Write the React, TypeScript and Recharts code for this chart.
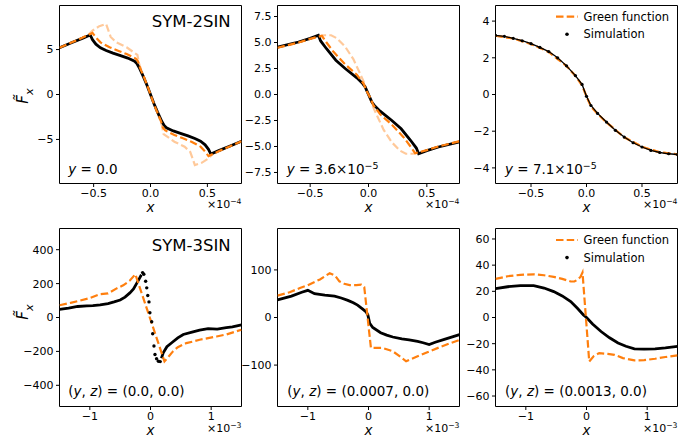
import { ComposedChart, Line, XAxis, YAxis, ReferenceArea } from 'recharts'

type Pt = [number, number]

// SYM-2SIN, x in units of 1e-4
const sym2Y0Sim: Pt[] = [
  [-0.8, 5.2], [-0.7, 5.72], [-0.6, 6.24], [-0.53, 6.62], [-0.51, 6.1], [-0.48, 5.6],
  [-0.44, 5.2], [-0.39, 4.9], [-0.33, 4.6], [-0.27, 4.35], [-0.2, 4.05], [-0.14, 3.7],
  [-0.12, 3.45], [-0.1, 3.0], [-0.06, 1.9], [-0.03, 1.0], [0, 0], [0.03, -1.0], [0.06, -1.9],
  [0.1, -3.0], [0.12, -3.45], [0.14, -3.7], [0.2, -4.05], [0.27, -4.35], [0.33, -4.6],
  [0.39, -4.9], [0.44, -5.2], [0.48, -5.6], [0.51, -6.1], [0.53, -6.62], [0.6, -6.24],
  [0.7, -5.72], [0.8, -5.2],
]
const sym2Y0Green: Pt[] = [
  [-0.8, 5.2], [-0.7, 5.75], [-0.6, 6.3], [-0.51, 6.85], [-0.48, 6.35], [-0.44, 5.8],
  [-0.36, 5.25], [-0.28, 4.85], [-0.21, 4.5], [-0.13, 4.0], [-0.11, 3.7], [-0.09, 2.9],
  [-0.05, 1.7], [-0.02, 0.7], [0, 0], [0.02, -0.7], [0.05, -1.7], [0.09, -2.9], [0.11, -3.7],
  [0.13, -4.0], [0.21, -4.5], [0.28, -4.85], [0.36, -5.25], [0.44, -5.8], [0.48, -6.35],
  [0.51, -6.85], [0.6, -6.3], [0.7, -5.75], [0.8, -5.2],
]
const sym2Y0Light: Pt[] = [
  [-0.8, 5.2], [-0.6, 6.3], [-0.55, 6.6], [-0.51, 7.1], [-0.45, 7.6], [-0.39, 7.85],
  [-0.375, 7.3], [-0.35, 6.4], [-0.3, 5.8], [-0.21, 5.25], [-0.115, 4.4], [-0.1, 3.4],
  [-0.06, 2.0], [-0.03, 1.0], [0, 0], [0.03, -1.0], [0.06, -2.0], [0.1, -3.4], [0.115, -4.4],
  [0.21, -5.25], [0.3, -5.8], [0.35, -6.4], [0.375, -7.3], [0.39, -7.85], [0.45, -7.6],
  [0.51, -7.1], [0.55, -6.6], [0.6, -6.3], [0.8, -5.2],
]

const sym2Y36Sim: Pt[] = [
  [-0.78, 4.55], [-0.6, 5.05], [-0.5, 5.4], [-0.43, 5.7], [-0.41, 5.15], [-0.36, 4.4],
  [-0.28, 3.3], [-0.2, 2.5], [-0.1, 1.6], [-0.05, 1.05], [-0.03, 0.75], [0.03, -0.75],
  [0.05, -1.05], [0.1, -1.6], [0.2, -2.5], [0.28, -3.3], [0.36, -4.4], [0.41, -5.15],
  [0.43, -5.7], [0.5, -5.4], [0.6, -5.05], [0.78, -4.55],
]
const sym2Y36Green: Pt[] = [
  [-0.78, 4.5], [-0.6, 5.0], [-0.5, 5.35], [-0.4, 5.65], [-0.36, 5.0], [-0.3, 4.1],
  [-0.2, 2.9], [-0.1, 1.9], [-0.04, 1.0], [-0.02, 0.4], [0.02, -0.4], [0.04, -1.0],
  [0.1, -1.9], [0.2, -2.9], [0.3, -4.1], [0.36, -5.0], [0.4, -5.65], [0.5, -5.35],
  [0.6, -5.0], [0.78, -4.5],
]
const sym2Y36Light: Pt[] = [
  [-0.78, 4.5], [-0.6, 5.0], [-0.45, 5.55], [-0.38, 5.7], [-0.32, 5.7], [-0.27, 5.4],
  [-0.2, 4.6], [-0.13, 3.4], [-0.08, 2.2], [-0.04, 1.2], [0, 0], [0.04, -1.2], [0.08, -2.2],
  [0.13, -3.4], [0.2, -4.6], [0.27, -5.4], [0.32, -5.7], [0.38, -5.7], [0.45, -5.55],
  [0.6, -5.0], [0.78, -4.5],
]

const sym2Y71Sim: Pt[] = [
  [-0.82, 3.22], [-0.74, 3.17], [-0.66, 3.06], [-0.58, 2.93], [-0.5, 2.77], [-0.42, 2.57],
  [-0.34, 2.34], [-0.26, 2.0], [-0.18, 1.56], [-0.1, 1.03], [-0.04, 0.55], [0, -0.1],
  [0.04, -0.6], [0.1, -1.03], [0.18, -1.5], [0.26, -1.95], [0.34, -2.32], [0.42, -2.63],
  [0.5, -2.86], [0.58, -3.05], [0.66, -3.16], [0.74, -3.23], [0.82, -3.27],
]
const sym2Y71Green: Pt[] = [
  [-0.82, 3.2], [-0.66, 3.05], [-0.5, 2.75], [-0.34, 2.32], [-0.18, 1.55], [-0.1, 1.02],
  [-0.04, 0.5], [0, -0.1], [0.04, -0.65], [0.1, -1.05], [0.18, -1.52], [0.34, -2.33],
  [0.5, -2.85], [0.66, -3.15], [0.82, -3.26],
]

// SYM-3SIN, x in units of 1e-3
const sym3Z0Sim: Pt[] = [
  [-1.5, 48], [-1.35, 55], [-1.2, 65], [-1.05, 68], [-0.95, 70], [-0.83, 75], [-0.7, 82],
  [-0.6, 92], [-0.5, 103], [-0.42, 120], [-0.34, 145], [-0.28, 168], [-0.23, 200],
  [-0.18, 232], [-0.15, 252],
]
const sym3Z0SimJump: Pt[] = [
  [-0.13, 265], [-0.11, 255], [-0.08, 214], [-0.062, 175], [-0.045, 130], [-0.025, 92],
  [-0.01, 28], [0.02, -25], [0.036, -96], [0.057, -168], [0.074, -218], [0.1, -243],
  [0.13, -258], [0.16, -260],
]
const sym3Z0SimRight: Pt[] = [
  [0.18, -240], [0.21, -208], [0.27, -172], [0.35, -149], [0.45, -120], [0.54, -100],
  [0.7, -85], [0.81, -75], [0.95, -66], [1.1, -68], [1.25, -60], [1.35, -55], [1.5, -43],
]
const sym3Z0Green: Pt[] = [
  [-1.5, 72], [-1.3, 88], [-1.16, 100], [-1.0, 115], [-0.83, 138], [-0.7, 142], [-0.55, 173],
  [-0.45, 190], [-0.34, 218], [-0.25, 255], [0.23, -259], [0.3, -230], [0.37, -200],
  [0.45, -175], [0.59, -151], [0.7, -142], [0.81, -131], [0.95, -122], [1.09, -112],
  [1.25, -100], [1.5, -72],
]

const sym3Y7Sim: Pt[] = [
  [-1.5, 37], [-1.27, 45], [-1.1, 53], [-1.0, 57], [-0.89, 50], [-0.72, 47], [-0.56, 45],
  [-0.45, 41], [-0.34, 36], [-0.25, 31], [-0.18, 26], [-0.1, 18], [-0.04, 12], [-0.01, 5],
  [0.02, -12], [0.07, -21], [0.2, -32], [0.3, -37], [0.4, -41], [0.55, -45], [0.67, -47],
  [0.81, -50], [0.9, -53], [1.0, -57], [1.1, -52], [1.25, -46], [1.5, -36],
]
const sym3Y7Green: Pt[] = [
  [-1.5, 46], [-1.3, 53], [-1.13, 62], [-1.0, 68], [-0.8, 80], [-0.64, 93], [-0.55, 88],
  [-0.48, 76], [-0.4, 71], [-0.31, 68], [-0.2, 68], [-0.12, 69], [-0.07, 64], [0.04, -64],
  [0.12, -64], [0.23, -64], [0.4, -71], [0.5, -80], [0.62, -92], [0.8, -82], [0.97, -73],
  [1.2, -61], [1.5, -47],
]

const sym3Y13Sim: Pt[] = [
  [-1.5, 22], [-1.3, 23.5], [-1.09, 24.4], [-0.87, 24.4], [-0.7, 22.5], [-0.54, 19.8],
  [-0.4, 16.5], [-0.26, 12.2], [-0.15, 7], [-0.05, 2], [0, 0], [0.1, -5], [0.24, -10.7],
  [0.38, -15.5], [0.52, -19.5], [0.65, -22], [0.79, -23.9], [0.95, -24.2], [1.13, -23.9],
  [1.3, -23.2], [1.5, -22.1],
]
const sym3Y13Green: Pt[] = [
  [-1.5, 29.5], [-1.3, 31.5], [-1.09, 32.6], [-0.87, 33], [-0.7, 32.3], [-0.54, 31],
  [-0.4, 29.5], [-0.26, 27.5], [-0.2, 27.5], [-0.15, 28.8], [-0.1, 31], [-0.066, 34.4],
  [0.045, -33.6], [0.12, -29.5], [0.21, -27.2], [0.35, -27.8], [0.46, -28.5], [0.6, -31],
  [0.79, -32.8], [0.95, -32.6], [1.13, -31.5], [1.3, -30.2], [1.5, -29],
]

const topXTicks = [-0.5, 0, 0.5]
const botXTicks = [-1, 0, 1]

const FONT = '"DejaVu Sans", sans-serif'
const ORANGE = '#ff7f0e'
const DASH = '7.5 3.2'

const toRows = (pts: Pt[]) => pts.map(([x, y]) => ({ x, y }))
const fmt = (d: number) => (v: number) => v.toFixed(d).replace('-', '\u2212')

type Kind = 'sim' | 'simDots' | 'dots' | 'green' | 'light'
interface Series { data: Pt[]; kind: Kind }

interface PanelProps {
  left: number
  top: number
  xDomain: [number, number]
  yDomain: [number, number]
  xTicks: number[]
  yTicks: number[]
  xDec: number
  yDec: number
  series: Series[]
}

const tickStyle = { fill: '#000', fontSize: 11, fontFamily: FONT }

function renderSeries(s: Series, i: number) {
  const data = toRows(s.data)
  const common = { key: i, data, dataKey: 'y', type: 'linear' as const, isAnimationActive: false, activeDot: false }
  if (s.kind === 'sim') return <Line {...common} stroke="#000" strokeWidth={2.8} dot={false} />
  if (s.kind === 'simDots')
    return <Line {...common} stroke="#000" strokeWidth={1.3} dot={{ r: 1.6, fill: '#000', stroke: 'none' }} />
  if (s.kind === 'dots')
    return <Line {...common} stroke="none" dot={{ r: 1.7, fill: '#000', stroke: 'none' }} />
  if (s.kind === 'light')
    return <Line {...common} stroke={ORANGE} strokeOpacity={0.42} strokeWidth={2.2} strokeDasharray={DASH} dot={false} />
  return <Line {...common} stroke={ORANGE} strokeWidth={2.2} strokeDasharray={DASH} dot={false} />
}

function Panel({ left, top, xDomain, yDomain, xTicks, yTicks, xDec, yDec, series }: PanelProps) {
  return (
    <div style={{ position: 'absolute', left, top }}>
      <ComposedChart width={234.5} height={202.5} margin={{ top: 2.5, right: 2, left: 0.5, bottom: 0 }}>
        <XAxis
          type="number"
          dataKey="x"
          domain={xDomain}
          ticks={xTicks}
          interval={0}
          allowDataOverflow
          tickFormatter={fmt(xDec)}
          tick={tickStyle}
          tickLine={{ stroke: '#000' }}
          axisLine={false}
          tickSize={3.5}
          tickMargin={2.5}
          height={22}
        />
        <YAxis
          type="number"
          domain={yDomain}
          ticks={yTicks}
          interval={0}
          allowDataOverflow
          tickFormatter={fmt(yDec)}
          tick={tickStyle}
          tickLine={{ stroke: '#000' }}
          axisLine={false}
          tickSize={3.5}
          tickMargin={2.5}
          width={50}
        />
        <ReferenceArea
          x1={xDomain[0]}
          x2={xDomain[1]}
          y1={yDomain[0]}
          y2={yDomain[1]}
          fill="none"
          fillOpacity={0}
          stroke="#000"
          strokeWidth={1}
        />
        {series.map(renderSeries)}
      </ComposedChart>
    </div>
  )
}

function Sup({ children }: { children: string }) {
  return (
    <tspan baselineShift="super" fontSize="0.7em">
      {children}
    </tspan>
  )
}

function Legend({ y }: { y: number }) {
  return (
    <g>
      <line x1={556} x2={578} y1={y} y2={y} stroke={ORANGE} strokeWidth={2.2} strokeDasharray={DASH} />
      <text x={583.5} y={y} dominantBaseline="central" fontSize={11.5}>Green function</text>
      <circle cx={567} cy={y + 17.6} r={1.8} fill="#000" />
      <text x={583.5} y={y + 17.6} dominantBaseline="central" fontSize={11.5}>Simulation</text>
    </g>
  )
}

function Overlay() {
  const ylabel = (cy: number) => (
    <text
      x={22.5}
      y={cy}
      transform={`rotate(-90 22.5 ${cy})`}
      textAnchor="middle"
      dominantBaseline="central"
      fontSize={15}
      fontStyle="italic"
    >
      {'F\u0303'}
      <tspan baselineShift="sub" fontSize="0.75em">x</tspan>
    </text>
  )
  const xlabel = (cx: number, cy: number) => (
    <text x={cx} y={cy} textAnchor="middle" dominantBaseline="central" fontSize={13.5} fontStyle="italic">
      x
    </text>
  )
  const offset = (rx: number, by: number, exp: string) => (
    <text x={rx} y={by} textAnchor="end" fontSize={11}>
      ×10<Sup>{exp}</Sup>
    </text>
  )
  const yz = (x: number, val: string) => (
    <text x={x} y={395.5} fontSize={13.5}>
      (<tspan fontStyle="italic">y</tspan>, <tspan fontStyle="italic">z</tspan>) = ({val}, 0.0)
    </text>
  )
  return (
    <svg
      width={678}
      height={439}
      style={{ position: 'absolute', left: 0, top: 0, pointerEvents: 'none', fontFamily: FONT }}
    >
      <text x={151.7} y={27.3} fontSize={16.5}>SYM-2SIN</text>
      <text x={151.7} y={250.7} fontSize={16.5}>SYM-3SIN</text>

      <text x={68.3} y={173.5} fontSize={13.5}>
        <tspan fontStyle="italic">y</tspan> = 0.0
      </text>
      <text x={286.7} y={173.5} fontSize={13.5}>
        <tspan fontStyle="italic">y</tspan> = 3.6×10<Sup>{'\u22125'}</Sup>
      </text>
      <text x={505} y={173.5} fontSize={13.5}>
        <tspan fontStyle="italic">y</tspan> = 7.1×10<Sup>{'\u22125'}</Sup>
      </text>
      {yz(68.3, '0.0')}
      {yz(287.3, '0.0007')}
      {yz(505, '0.0013')}

      {ylabel(96)}
      {ylabel(312)}

      {xlabel(150.5, 207)}
      {xlabel(368.5, 207)}
      {xlabel(586.5, 207)}
      {xlabel(150.5, 429.5)}
      {xlabel(368.5, 429.5)}
      {xlabel(586.5, 429.5)}

      {offset(241.5, 208, '\u22124')}
      {offset(459.5, 208, '\u22124')}
      {offset(677.5, 208, '\u22124')}
      {offset(241.5, 431.5, '\u22123')}
      {offset(459.5, 431.5, '\u22123')}
      {offset(677.5, 431.5, '\u22123')}

      <Legend y={16.7} />
      <Legend y={240} />
    </svg>
  )
}

export default function App() {
  return (
    <div
      style={{
        position: 'absolute',
        left: 0,
        top: 0,
        width: 678,
        height: 439,
        overflow: 'hidden',
        background: '#fff',
        fontFamily: FONT,
      }}
    >
      <Panel
        left={9}
        top={3}
        xDomain={[-0.8, 0.8]}
        yDomain={[-9.9, 9.9]}
        xTicks={topXTicks}
        yTicks={[-5, 0, 5]}
        xDec={1}
        yDec={0}
        series={[
          { data: sym2Y0Light, kind: 'light' },
          { data: sym2Y0Sim, kind: 'sim' },
          { data: sym2Y0Green, kind: 'green' },
        ]}
      />
      <Panel
        left={227}
        top={3}
        xDomain={[-0.78, 0.78]}
        yDomain={[-8.56, 8.56]}
        xTicks={topXTicks}
        yTicks={[-7.5, -5, -2.5, 0, 2.5, 5, 7.5]}
        xDec={1}
        yDec={1}
        series={[
          { data: sym2Y36Light, kind: 'light' },
          { data: sym2Y36Sim, kind: 'sim' },
          { data: sym2Y36Green, kind: 'green' },
        ]}
      />
      <Panel
        left={445}
        top={3}
        xDomain={[-0.82, 0.82]}
        yDomain={[-4.85, 4.85]}
        xTicks={topXTicks}
        yTicks={[-4, -2, 0, 2, 4]}
        xDec={1}
        yDec={0}
        series={[
          { data: sym2Y71Green, kind: 'light' },
          { data: sym2Y71Green, kind: 'green' },
          { data: sym2Y71Sim, kind: 'simDots' },
        ]}
      />
      <Panel
        left={9}
        top={226}
        xDomain={[-1.5, 1.5]}
        yDomain={[-525, 525]}
        xTicks={botXTicks}
        yTicks={[-400, -200, 0, 200, 400]}
        xDec={0}
        yDec={0}
        series={[
          { data: sym3Z0Sim, kind: 'sim' },
          { data: sym3Z0SimJump, kind: 'dots' },
          { data: sym3Z0SimRight, kind: 'sim' },
          { data: sym3Z0Green, kind: 'green' },
        ]}
      />
      <Panel
        left={227}
        top={226}
        xDomain={[-1.5, 1.5]}
        yDomain={[-187, 187]}
        xTicks={botXTicks}
        yTicks={[-100, 0, 100]}
        xDec={0}
        yDec={0}
        series={[
          { data: sym3Y7Sim, kind: 'sim' },
          { data: sym3Y7Green, kind: 'green' },
        ]}
      />
      <Panel
        left={445}
        top={226}
        xDomain={[-1.5, 1.5]}
        yDomain={[-68, 68]}
        xTicks={botXTicks}
        yTicks={[-60, -40, -20, 0, 20, 40, 60]}
        xDec={0}
        yDec={0}
        series={[
          { data: sym3Y13Sim, kind: 'sim' },
          { data: sym3Y13Green, kind: 'green' },
        ]}
      />
      <Overlay />
    </div>
  )
}
